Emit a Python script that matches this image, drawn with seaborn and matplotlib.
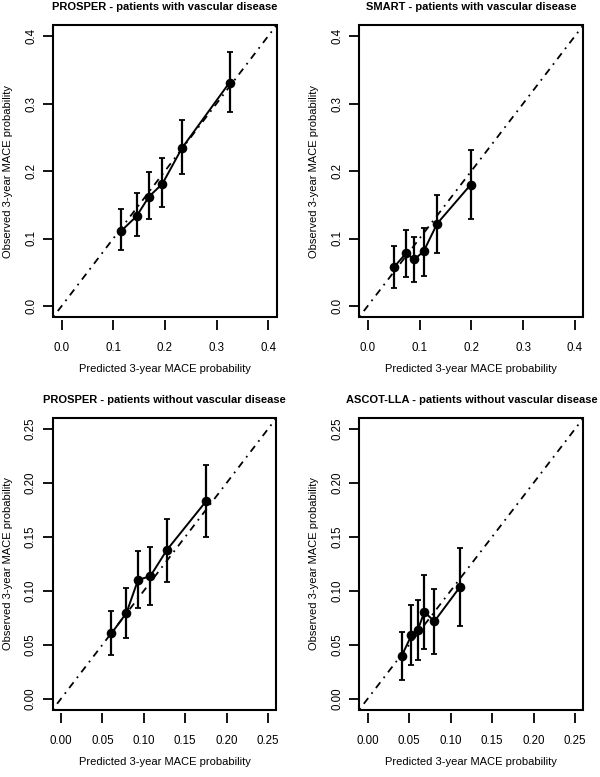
import numpy as np
import pandas as pd
import matplotlib
matplotlib.use("Agg")
import matplotlib.pyplot as plt
import seaborn as sns
from matplotlib.patches import Rectangle

# ---- data ----
titles = [
    "PROSPER - patients with vascular disease",
    "SMART - patients with vascular disease",
    "PROSPER - patients without vascular disease",
    "ASCOT-LLA - patients without vascular disease",
]

p1_pred = [0.115, 0.145, 0.169, 0.195, 0.233, 0.325]
p1_obs  = [0.111, 0.133, 0.162, 0.181, 0.234, 0.331]
p1_lo   = [0.083, 0.103, 0.129, 0.146, 0.195, 0.287]
p1_hi   = [0.143, 0.168, 0.199, 0.220, 0.275, 0.377]

p2_pred = [0.051, 0.074, 0.090, 0.108, 0.134, 0.199]
p2_obs  = [0.058, 0.078, 0.069, 0.081, 0.122, 0.180]
p2_lo   = [0.027, 0.043, 0.036, 0.044, 0.079, 0.129]
p2_hi   = [0.089, 0.113, 0.102, 0.116, 0.165, 0.231]

p3_pred = [0.061, 0.079, 0.093, 0.108, 0.128, 0.1755]
p3_obs  = [0.0606, 0.0794, 0.110, 0.1137, 0.138, 0.1833]
p3_lo   = [0.0405, 0.0566, 0.0837, 0.0868, 0.1085, 0.150]
p3_hi   = [0.081, 0.103, 0.137, 0.1406, 0.1669, 0.2166]

p4_pred = [0.041, 0.0527, 0.0603, 0.0683, 0.0804, 0.1113]
p4_obs  = [0.0396, 0.0588, 0.0634, 0.0804, 0.0717, 0.1036]
p4_lo   = [0.0176, 0.031, 0.0356, 0.0464, 0.0417, 0.0677]
p4_hi   = [0.0618, 0.0866, 0.0915, 0.1144, 0.102, 0.1395]

ticks_a = [0.0, 0.1, 0.2, 0.3, 0.4]
labels_a = ["0.0", "0.1", "0.2", "0.3", "0.4"]
ticks_b = [0.00, 0.05, 0.10, 0.15, 0.20, 0.25]
labels_b = ["0.00", "0.05", "0.10", "0.15", "0.20", "0.25"]

xlabel = "Predicted 3-year MACE probability"
ylabel = "Observed 3-year MACE probability"

panels = [
    (p1_pred, p1_obs, p1_lo, p1_hi, ticks_a, labels_a),
    (p2_pred, p2_obs, p2_lo, p2_hi, ticks_a, labels_a),
    (p3_pred, p3_obs, p3_lo, p3_hi, ticks_b, labels_b),
    (p4_pred, p4_obs, p4_lo, p4_hi, ticks_b, labels_b),
]

sns.set_style("white")
plt.rcParams["font.family"] = ["Liberation Sans", "DejaVu Sans"]

W, H = 600, 777
fig = plt.figure(figsize=(W / 100, H / 100), dpi=100)

# axes boxes in pixel coordinates: (left, top, right, bottom)
boxes = [
    (53.4, 25.2, 276.5, 316.8),
    (359.4, 25.2, 583.3, 316.8),
    (52.7, 418.2, 276.3, 709.5),
    (359.4, 418.2, 583.3, 709.5),
]

PX = 72 / 100  # points per pixel

for (pred, obs, lo, hi, ticks, tlabels), title, (l, t, r, b) in zip(panels, titles, boxes):
    ax = fig.add_axes([l / W, 1 - b / H, (r - l) / W, (b - t) / H])
    lim_hi = ticks[-1]
    ext = 0.04 * lim_hi
    ax.set_xlim(-ext, lim_hi + ext)
    ax.set_ylim(-ext, lim_hi + ext)

    # diagonal reference line
    ax.plot([-ext, lim_hi + ext], [-ext, lim_hi + ext], color="black",
            lw=1.3, linestyle=(0, (1, 3, 4, 3)))

    df = pd.DataFrame({"pred": pred, "obs": obs})
    sns.lineplot(data=df, x="pred", y="obs", ax=ax, color="black", lw=1.4,
                 estimator=None, sort=True)
    ax.errorbar(pred, obs, yerr=[np.array(obs) - np.array(lo), np.array(hi) - np.array(obs)],
                fmt="none", ecolor="black", elinewidth=1.6, capsize=2.2, capthick=1.3)
    sns.scatterplot(data=df, x="pred", y="obs", ax=ax, color="black", s=48,
                    edgecolor="black", linewidth=0, zorder=5)

    ax.set_xticks(ticks)
    ax.set_xticklabels(tlabels)
    ax.set_yticks(ticks)
    ax.set_yticklabels(tlabels, rotation=90, va="center")

    for s in ax.spines.values():
        s.set_visible(False)
    ax.spines["bottom"].set_position(("outward", 2.5))
    ax.add_patch(Rectangle((0, 0), 1, 1, transform=ax.transAxes, fill=False,
                           edgecolor="black", lw=1.5, clip_on=False, zorder=10))

    ax.tick_params(axis="both", direction="out", length=10 * PX, width=1.3,
                   color="black", labelsize=8.3, labelcolor="black")
    ax.tick_params(axis="x", pad=12 * PX, bottom=True)
    ax.tick_params(axis="y", pad=6 * PX, left=True)

    ax.set_xlabel(xlabel, fontsize=8, color="black")
    ax.set_ylabel(ylabel, fontsize=8, color="black")
    bw, bh = r - l, b - t
    ax.xaxis.set_label_coords(0.5, -52.5 / bh)
    ax.xaxis.label.set_va("center")
    ax.yaxis.set_label_coords(-45 / bw, 0.5)
    ax.yaxis.label.set_va("center")
    ax.set_title(title, fontsize=8, fontweight="bold", color="black",
                 y=1 + 18.5 / bh, va="center", pad=0)

fig.savefig("out.png", dpi=100, facecolor="white")
